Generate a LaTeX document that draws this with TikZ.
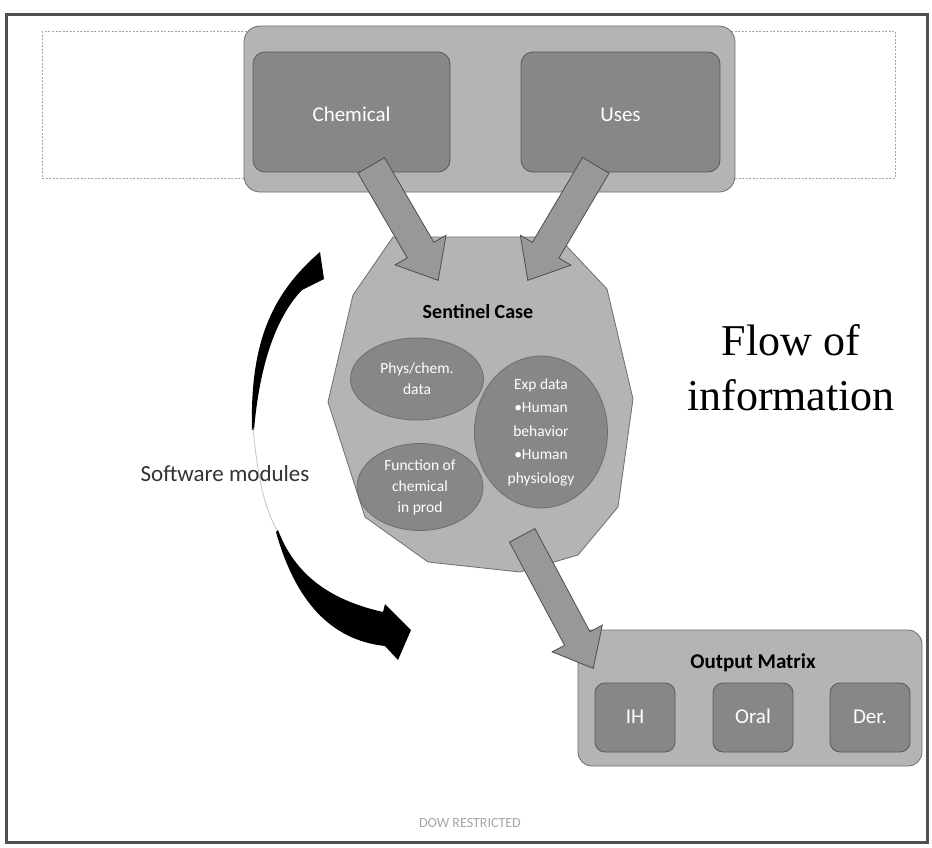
\documentclass[tikz,border=0pt]{standalone}
\usepackage{fontspec}
\setmainfont{Carlito}
\newfontfamily\timesf{Liberation Serif}
\usetikzlibrary{shapes.geometric,shapes.arrows,calc}
\definecolor{lightbox}{HTML}{B4B4B4}
\definecolor{darkbox}{HTML}{878787}
\definecolor{edgec}{HTML}{6E6E6E}
\definecolor{arrowc}{HTML}{989898}
\definecolor{framec}{HTML}{505050}
\newcommand\blockarrow[4]{%
  \path let \p1=($(#2)-(#1)$), \n1={atan2(\y1,\x1)}, \n2={veclen(\x1,\y1)} in
    node[barrow, rotate=\n1, minimum height=\n2, text height=#3, single arrow head extend=#4] at (#1) {};}
\begin{document}
\begin{tikzpicture}[x=1pt,y=-1pt,
  outerbox/.style={draw=edgec, fill=lightbox, rounded corners=16pt, line width=0.8pt, inner sep=0pt},
  innerbox/.style={draw=edgec!80!black, fill=darkbox, rounded corners=12pt, text=white, font=\fontsize{21}{24}\selectfont, inner sep=0pt, line width=0.8pt, text height=1.5ex, text depth=0.3ex},
  octo/.style={draw=edgec, fill=lightbox, line width=0.8pt},
  ell/.style={ellipse, draw=edgec, fill=darkbox, text=white, align=center, inner sep=0pt, line width=0.8pt, font=\fontsize{15.5}{21}\selectfont},
  barrow/.style={single arrow, draw=edgec!70!black, fill=arrowc, inner sep=0pt, text depth=0pt, single arrow tip angle=80, line width=0.8pt, anchor=tail},
  curvearrow/.style={fill=black}
]
\useasboundingbox (0,0) rectangle (932,847);
\fill[white] (0,0) rectangle (932,847);
\draw[framec, line width=3pt] (6,14) rectangle (927,842);
\draw[gray!70, line width=0.6pt, dash pattern=on 2pt off 1.5pt] (42,31) rectangle (895,178);

% inputs
\node[outerbox, minimum width=491, minimum height=166] (inputs) at (489.5,109) {};
\node[innerbox, text height=4.2ex, minimum width=197, minimum height=120] (chem) at (351.5,112) {Chemical};
\node[innerbox, text height=4.2ex, minimum width=199, minimum height=120] (uses) at (620.5,112) {Uses};

% sentinel case
\draw[octo] (393,237) -- (558,237) -- (607,289) -- (633,399) -- (618,507) -- (578,555) -- (520,572) -- (428,562) -- (365,517) -- (328,402) -- (353,295) -- cycle;
\node[font=\bfseries\fontsize{20}{24}\selectfont] (sentinel) at (478,312) {Sentinel Case};
\node[ell, minimum width=133, minimum height=82] (phys) at (417,379) {Phys/chem.\\data};
\node[ell, minimum width=126, minimum height=87] (func) at (420,487) {Function of\\chemical\\in prod};
\node[ell, minimum width=133, minimum height=130, font=\fontsize{15.5}{23.5}\selectfont] (exp) at (541,432) {Exp data\\•Human\\behavior\\•Human\\physiology};

% output matrix
\node[outerbox, rounded corners=14pt, minimum width=344, minimum height=136] (output) at (750,698) {};
\node[font=\bfseries\fontsize{21}{24}\selectfont] (outlabel) at (753,663) {Output Matrix};
\node[innerbox, text height=3ex, rounded corners=10pt, minimum width=80, minimum height=69] (ih) at (635,717.5) {IH};
\node[innerbox, text height=3ex, rounded corners=10pt, minimum width=80, minimum height=69] (oral) at (753,717.5) {Oral};
\node[innerbox, text height=3ex, rounded corners=10pt, minimum width=80, minimum height=69] (der) at (870,717.5) {Der.};

% block arrows
\coordinate (a1s) at (371,165); \coordinate (a1t) at (438,280);
\coordinate (a2s) at (596,165); \coordinate (a2t) at (528,280);
\coordinate (a3s) at (522,535); \coordinate (a3t) at (593,668);
\blockarrow{a1s}{a1t}{30pt}{14pt}
\blockarrow{a2s}{a2t}{30pt}{14pt}
\blockarrow{a3s}{a3t}{28pt}{14pt}

% software modules curved arrow
\fill[curvearrow] (252,430) .. controls (250,345) and (270,295) .. (320,252) -- (324,279) -- (302,290) .. controls (278,315) and (260,360) .. (254,430) -- cycle;
\draw[gray!45, line width=0.8pt] (253,428) .. controls (258,480) and (265,510) .. (278,532);
\fill[curvearrow] (278,530) .. controls (295,575) and (330,600) .. (383,612) -- (385,604) -- (411,630) -- (398,660) -- (385,646) .. controls (330,640) and (295,600) .. (276,532) -- cycle;
\node[text=black!80, font=\fontsize{23}{26}\selectfont] (software) at (225,474) {Software modules};

% title
\node[anchor=base, font=\timesf\fontsize{44}{50}\selectfont] (flow1) at (791,355) {Flow of};
\node[anchor=base, font=\timesf\fontsize{44}{50}\selectfont] (flow2) at (791,410) {information};

\node[text=gray!70, font=\fontsize{14}{16}\selectfont] (dow) at (470,823) {DOW RESTRICTED};
\end{tikzpicture}
\end{document}
